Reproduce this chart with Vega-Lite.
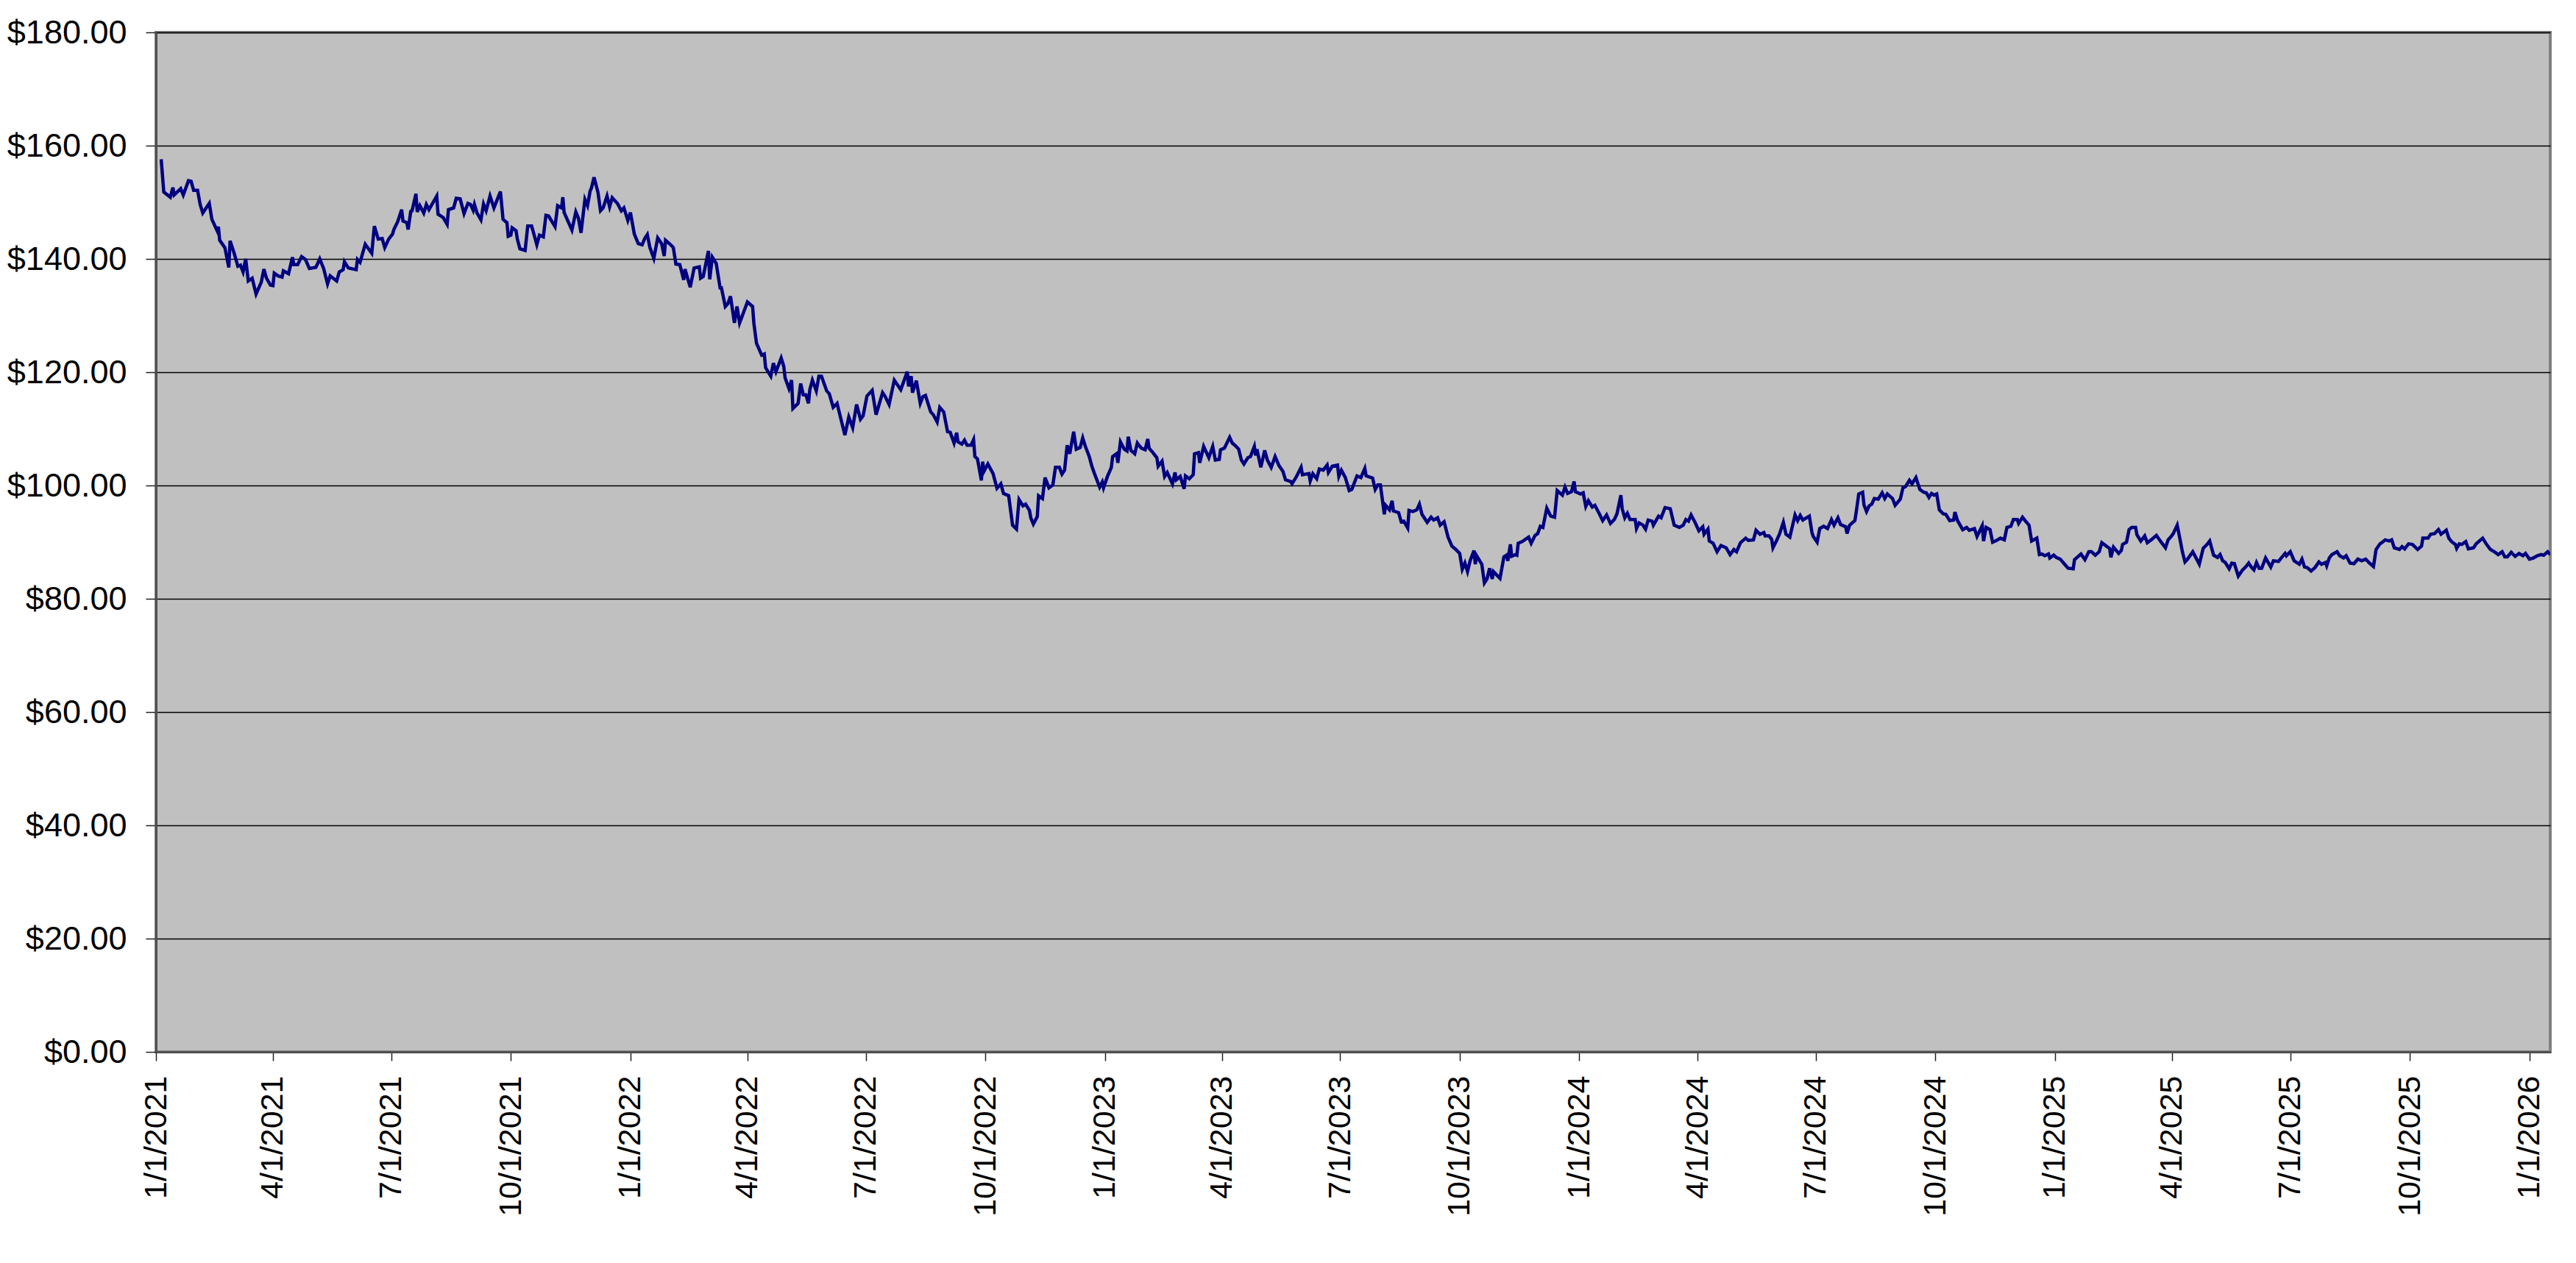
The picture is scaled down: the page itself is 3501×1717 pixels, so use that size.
{
  "$schema": "https://vega.github.io/schema/vega-lite/v6.json",
  "autosize": {"type": "none"},
  "padding": {"left": 212, "top": 44, "right": 35, "bottom": 287},
  "width": 3254,
  "height": 1386,
  "background": "#FFFFFF",
  "config": {
    "view": {"fill": "#C0C0C0", "stroke": "#808080", "strokeWidth": 4},
    "axis": {"labelFont": "Liberation Sans", "labelColor": "#000000", "labelLimit": 0}
  },
  "data": {"values": [
    {"d":"2021-01-05","p":157.6},{"d":"2021-01-07","p":151.8},{"d":"2021-01-12","p":150.9},{"d":"2021-01-14","p":152.6},{"d":"2021-01-15","p":151.3},{"d":"2021-01-20","p":152.4},{"d":"2021-01-22","p":151.3},{"d":"2021-01-26","p":153.8},{"d":"2021-01-28","p":153.7},{"d":"2021-01-30","p":152.1},
    {"d":"2021-02-02","p":152.1},{"d":"2021-02-04","p":149.6},{"d":"2021-02-06","p":148.1},{"d":"2021-02-11","p":149.8},{"d":"2021-02-13","p":147.0},{"d":"2021-02-17","p":145.0},{"d":"2021-02-18","p":145.7},{"d":"2021-02-19","p":143.3},{"d":"2021-02-23","p":142.0},{"d":"2021-02-26","p":138.5},{"d":"2021-02-27","p":143.2},
    {"d":"2021-03-02","p":141.1},{"d":"2021-03-05","p":138.7},{"d":"2021-03-07","p":138.9},{"d":"2021-03-09","p":137.7},{"d":"2021-03-11","p":140.0},{"d":"2021-03-13","p":136.1},{"d":"2021-03-16","p":136.6},{"d":"2021-03-19","p":133.8},{"d":"2021-03-23","p":135.9},{"d":"2021-03-25","p":138.2},{"d":"2021-03-27","p":136.6},{"d":"2021-03-30","p":135.4},
    {"d":"2021-04-01","p":135.3},{"d":"2021-04-02","p":137.5},{"d":"2021-04-05","p":137.0},{"d":"2021-04-08","p":136.8},{"d":"2021-04-09","p":137.9},{"d":"2021-04-13","p":137.4},{"d":"2021-04-16","p":140.3},{"d":"2021-04-17","p":139.0},{"d":"2021-04-20","p":139.0},{"d":"2021-04-23","p":140.4},{"d":"2021-04-26","p":139.9},{"d":"2021-04-29","p":138.3},
    {"d":"2021-05-04","p":138.5},{"d":"2021-05-07","p":140.0},{"d":"2021-05-10","p":138.3},{"d":"2021-05-13","p":135.6},{"d":"2021-05-15","p":137.0},{"d":"2021-05-20","p":136.1},{"d":"2021-05-22","p":137.7},{"d":"2021-05-25","p":138.1},{"d":"2021-05-26","p":139.5},{"d":"2021-05-29","p":138.4},
    {"d":"2021-06-04","p":138.1},{"d":"2021-06-05","p":139.9},{"d":"2021-06-07","p":139.4},{"d":"2021-06-11","p":142.6},{"d":"2021-06-16","p":141.0},{"d":"2021-06-18","p":145.8},{"d":"2021-06-21","p":143.5},{"d":"2021-06-24","p":143.6},{"d":"2021-06-26","p":142.0},{"d":"2021-06-29","p":143.5},
    {"d":"2021-07-02","p":144.4},{"d":"2021-07-03","p":145.2},{"d":"2021-07-06","p":146.6},{"d":"2021-07-09","p":148.7},{"d":"2021-07-10","p":146.7},{"d":"2021-07-13","p":146.4},{"d":"2021-07-14","p":145.2},{"d":"2021-07-16","p":148.4},{"d":"2021-07-17","p":148.5},{"d":"2021-07-20","p":151.5},{"d":"2021-07-21","p":148.3},{"d":"2021-07-23","p":149.4},{"d":"2021-07-26","p":148.1},{"d":"2021-07-28","p":149.6},{"d":"2021-07-30","p":148.7},
    {"d":"2021-08-05","p":151.1},{"d":"2021-08-06","p":147.9},{"d":"2021-08-10","p":147.3},{"d":"2021-08-13","p":146.1},{"d":"2021-08-14","p":148.7},{"d":"2021-08-18","p":149.0},{"d":"2021-08-20","p":150.7},{"d":"2021-08-23","p":150.6},{"d":"2021-08-26","p":148.0},{"d":"2021-08-29","p":149.8},{"d":"2021-08-31","p":149.6},
    {"d":"2021-09-02","p":148.6},{"d":"2021-09-03","p":149.6},{"d":"2021-09-05","p":148.1},{"d":"2021-09-08","p":146.9},{"d":"2021-09-10","p":149.7},{"d":"2021-09-12","p":148.5},{"d":"2021-09-15","p":151.1},{"d":"2021-09-18","p":149.0},{"d":"2021-09-23","p":151.9},{"d":"2021-09-25","p":147.0},{"d":"2021-09-28","p":146.4},{"d":"2021-09-29","p":144.0},
    {"d":"2021-10-01","p":144.2},{"d":"2021-10-02","p":145.5},{"d":"2021-10-05","p":145.0},{"d":"2021-10-06","p":143.5},{"d":"2021-10-08","p":141.8},{"d":"2021-10-12","p":141.5},{"d":"2021-10-14","p":145.8},{"d":"2021-10-17","p":145.8},{"d":"2021-10-18","p":145.0},{"d":"2021-10-21","p":142.5},{"d":"2021-10-23","p":144.2},{"d":"2021-10-26","p":143.9},{"d":"2021-10-28","p":147.7},{"d":"2021-10-30","p":147.6},
    {"d":"2021-11-04","p":145.7},{"d":"2021-11-06","p":149.4},{"d":"2021-11-09","p":149.0},{"d":"2021-11-10","p":150.9},{"d":"2021-11-11","p":148.2},{"d":"2021-11-17","p":145.1},{"d":"2021-11-20","p":148.3},{"d":"2021-11-22","p":147.2},{"d":"2021-11-24","p":144.6},{"d":"2021-11-27","p":150.5},{"d":"2021-11-29","p":149.4},
    {"d":"2021-12-01","p":152.0},{"d":"2021-12-02","p":152.5},{"d":"2021-12-04","p":154.4},{"d":"2021-12-07","p":151.8},{"d":"2021-12-09","p":148.5},{"d":"2021-12-11","p":149.0},{"d":"2021-12-14","p":151.1},{"d":"2021-12-16","p":149.2},{"d":"2021-12-18","p":150.8},{"d":"2021-12-20","p":150.3},{"d":"2021-12-22","p":149.8},{"d":"2021-12-25","p":148.5},{"d":"2021-12-27","p":149.0},{"d":"2021-12-30","p":146.8},
    {"d":"2022-01-01","p":148.2},{"d":"2022-01-04","p":144.4},{"d":"2022-01-07","p":142.7},{"d":"2022-01-10","p":142.5},{"d":"2022-01-12","p":143.6},{"d":"2022-01-14","p":144.3},{"d":"2022-01-16","p":142.0},{"d":"2022-01-19","p":140.1},{"d":"2022-01-22","p":143.7},{"d":"2022-01-25","p":142.7},{"d":"2022-01-27","p":140.5},{"d":"2022-01-28","p":143.3},
    {"d":"2022-02-01","p":142.5},{"d":"2022-02-03","p":142.0},{"d":"2022-02-05","p":139.1},{"d":"2022-02-08","p":139.0},{"d":"2022-02-11","p":136.3},{"d":"2022-02-12","p":138.2},{"d":"2022-02-16","p":135.0},{"d":"2022-02-19","p":138.4},{"d":"2022-02-23","p":138.6},{"d":"2022-02-24","p":136.6},{"d":"2022-02-26","p":136.9},
    {"d":"2022-03-02","p":141.4},{"d":"2022-03-03","p":136.4},{"d":"2022-03-05","p":140.3},{"d":"2022-03-08","p":139.2},{"d":"2022-03-11","p":134.9},{"d":"2022-03-12","p":134.9},{"d":"2022-03-15","p":131.6},{"d":"2022-03-17","p":132.1},{"d":"2022-03-19","p":133.4},{"d":"2022-03-22","p":128.7},{"d":"2022-03-24","p":131.6},{"d":"2022-03-26","p":128.7},{"d":"2022-03-28","p":129.9},
    {"d":"2022-04-01","p":132.4},{"d":"2022-04-05","p":131.6},{"d":"2022-04-06","p":128.6},{"d":"2022-04-08","p":125.1},{"d":"2022-04-12","p":123.0},{"d":"2022-04-14","p":123.2},{"d":"2022-04-15","p":120.8},{"d":"2022-04-19","p":119.3},{"d":"2022-04-21","p":121.6},{"d":"2022-04-23","p":120.1},{"d":"2022-04-27","p":122.5},{"d":"2022-04-29","p":121.0},{"d":"2022-04-30","p":119.0},
    {"d":"2022-05-03","p":117.1},{"d":"2022-05-05","p":118.6},{"d":"2022-05-06","p":113.6},{"d":"2022-05-10","p":114.5},{"d":"2022-05-12","p":118.0},{"d":"2022-05-14","p":116.0},{"d":"2022-05-16","p":116.0},{"d":"2022-05-18","p":114.5},{"d":"2022-05-19","p":116.9},{"d":"2022-05-21","p":118.6},{"d":"2022-05-24","p":116.7},{"d":"2022-05-26","p":119.3},{"d":"2022-05-28","p":119.3},
    {"d":"2022-06-01","p":116.7},{"d":"2022-06-03","p":116.2},{"d":"2022-06-06","p":113.8},{"d":"2022-06-09","p":114.5},{"d":"2022-06-15","p":108.9},{"d":"2022-06-18","p":112.1},{"d":"2022-06-21","p":110.2},{"d":"2022-06-24","p":114.3},{"d":"2022-06-27","p":111.7},{"d":"2022-06-29","p":112.3},
    {"d":"2022-07-02","p":115.8},{"d":"2022-07-06","p":116.8},{"d":"2022-07-09","p":112.5},{"d":"2022-07-14","p":116.4},{"d":"2022-07-16","p":115.7},{"d":"2022-07-19","p":114.3},{"d":"2022-07-23","p":118.6},{"d":"2022-07-28","p":116.9},
    {"d":"2022-08-02","p":120.1},{"d":"2022-08-03","p":117.5},{"d":"2022-08-05","p":119.3},{"d":"2022-08-06","p":116.4},{"d":"2022-08-09","p":118.5},{"d":"2022-08-12","p":114.5},{"d":"2022-08-14","p":115.7},{"d":"2022-08-16","p":115.9},{"d":"2022-08-20","p":113.0},{"d":"2022-08-22","p":112.5},{"d":"2022-08-25","p":111.2},{"d":"2022-08-27","p":113.8},{"d":"2022-08-30","p":113.0},
    {"d":"2022-09-02","p":109.5},{"d":"2022-09-04","p":109.4},{"d":"2022-09-07","p":107.5},{"d":"2022-09-09","p":109.3},{"d":"2022-09-10","p":107.7},{"d":"2022-09-13","p":107.3},{"d":"2022-09-15","p":108.0},{"d":"2022-09-17","p":107.1},{"d":"2022-09-20","p":107.1},{"d":"2022-09-22","p":108.1},{"d":"2022-09-23","p":105.1},{"d":"2022-09-25","p":104.7},{"d":"2022-09-28","p":100.9},{"d":"2022-09-29","p":104.2},{"d":"2022-09-30","p":102.5},
    {"d":"2022-10-03","p":103.8},{"d":"2022-10-07","p":102.1},{"d":"2022-10-10","p":99.5},{"d":"2022-10-13","p":100.3},{"d":"2022-10-15","p":98.6},{"d":"2022-10-19","p":98.2},{"d":"2022-10-22","p":93.0},{"d":"2022-10-25","p":92.3},{"d":"2022-10-27","p":97.5},{"d":"2022-10-30","p":96.4},
    {"d":"2022-11-01","p":96.7},{"d":"2022-11-04","p":95.6},{"d":"2022-11-05","p":94.3},{"d":"2022-11-07","p":93.2},{"d":"2022-11-10","p":94.5},{"d":"2022-11-11","p":98.2},{"d":"2022-11-14","p":97.7},{"d":"2022-11-16","p":101.4},{"d":"2022-11-19","p":99.6},{"d":"2022-11-22","p":100.1},{"d":"2022-11-24","p":103.2},{"d":"2022-11-27","p":103.2},{"d":"2022-11-29","p":102.0},
    {"d":"2022-12-01","p":102.7},{"d":"2022-12-03","p":107.1},{"d":"2022-12-05","p":105.6},{"d":"2022-12-08","p":109.5},{"d":"2022-12-10","p":106.4},{"d":"2022-12-13","p":106.7},{"d":"2022-12-15","p":108.4},{"d":"2022-12-17","p":106.9},{"d":"2022-12-20","p":105.1},{"d":"2022-12-22","p":103.4},{"d":"2022-12-24","p":102.1},{"d":"2022-12-28","p":99.7},{"d":"2022-12-30","p":100.6},{"d":"2022-12-31","p":99.6},
    {"d":"2023-01-03","p":101.6},{"d":"2023-01-06","p":103.2},{"d":"2023-01-07","p":105.1},{"d":"2023-01-10","p":105.6},{"d":"2023-01-11","p":104.0},{"d":"2023-01-13","p":107.7},{"d":"2023-01-16","p":106.4},{"d":"2023-01-18","p":106.1},{"d":"2023-01-19","p":108.6},{"d":"2023-01-21","p":106.2},{"d":"2023-01-24","p":105.6},{"d":"2023-01-26","p":107.5},{"d":"2023-01-29","p":106.6},
    {"d":"2023-02-01","p":106.3},{"d":"2023-02-03","p":108.2},{"d":"2023-02-04","p":106.6},{"d":"2023-02-07","p":105.8},{"d":"2023-02-10","p":104.9},{"d":"2023-02-11","p":103.4},{"d":"2023-02-14","p":104.3},{"d":"2023-02-16","p":101.6},{"d":"2023-02-18","p":102.3},{"d":"2023-02-22","p":100.3},{"d":"2023-02-24","p":102.3},{"d":"2023-02-25","p":101.0},{"d":"2023-02-28","p":101.6},
    {"d":"2023-03-03","p":99.4},{"d":"2023-03-04","p":101.7},{"d":"2023-03-07","p":101.2},{"d":"2023-03-10","p":101.9},{"d":"2023-03-11","p":105.6},{"d":"2023-03-14","p":105.8},{"d":"2023-03-15","p":104.0},{"d":"2023-03-18","p":106.9},{"d":"2023-03-19","p":106.4},{"d":"2023-03-22","p":104.9},{"d":"2023-03-25","p":106.9},{"d":"2023-03-27","p":104.5},{"d":"2023-03-30","p":104.6},{"d":"2023-03-31","p":106.3},
    {"d":"2023-04-03","p":106.6},{"d":"2023-04-07","p":108.5},{"d":"2023-04-09","p":107.5},{"d":"2023-04-12","p":106.9},{"d":"2023-04-14","p":106.4},{"d":"2023-04-16","p":104.5},{"d":"2023-04-18","p":103.8},{"d":"2023-04-21","p":104.9},{"d":"2023-04-23","p":105.1},{"d":"2023-04-26","p":106.9},{"d":"2023-04-27","p":105.3},{"d":"2023-04-28","p":106.4},
    {"d":"2023-05-01","p":103.2},{"d":"2023-05-04","p":106.2},{"d":"2023-05-06","p":104.5},{"d":"2023-05-09","p":103.2},{"d":"2023-05-12","p":105.1},{"d":"2023-05-15","p":103.5},{"d":"2023-05-18","p":102.5},{"d":"2023-05-20","p":101.0},{"d":"2023-05-24","p":100.7},{"d":"2023-05-25","p":100.3},{"d":"2023-05-28","p":101.4},
    {"d":"2023-06-01","p":103.2},{"d":"2023-06-02","p":101.9},{"d":"2023-06-07","p":102.1},{"d":"2023-06-08","p":100.8},{"d":"2023-06-10","p":102.1},{"d":"2023-06-13","p":101.2},{"d":"2023-06-15","p":102.9},{"d":"2023-06-18","p":102.7},{"d":"2023-06-21","p":103.6},{"d":"2023-06-22","p":102.3},{"d":"2023-06-25","p":103.4},{"d":"2023-06-29","p":103.6},{"d":"2023-06-30","p":101.6},
    {"d":"2023-07-02","p":102.7},{"d":"2023-07-05","p":101.4},{"d":"2023-07-08","p":99.1},{"d":"2023-07-10","p":99.3},{"d":"2023-07-14","p":101.7},{"d":"2023-07-17","p":101.4},{"d":"2023-07-20","p":103.0},{"d":"2023-07-21","p":101.7},{"d":"2023-07-26","p":101.3},{"d":"2023-07-28","p":99.3},{"d":"2023-07-30","p":100.1},
    {"d":"2023-08-01","p":100.1},{"d":"2023-08-04","p":94.9},{"d":"2023-08-05","p":96.5},{"d":"2023-08-08","p":95.7},{"d":"2023-08-10","p":97.3},{"d":"2023-08-11","p":95.5},{"d":"2023-08-15","p":95.2},{"d":"2023-08-17","p":93.6},{"d":"2023-08-19","p":93.7},{"d":"2023-08-22","p":92.5},{"d":"2023-08-23","p":95.6},{"d":"2023-08-26","p":95.4},{"d":"2023-08-29","p":95.7},{"d":"2023-08-31","p":96.7},
    {"d":"2023-09-02","p":94.9},{"d":"2023-09-06","p":93.5},{"d":"2023-09-09","p":94.4},{"d":"2023-09-11","p":93.9},{"d":"2023-09-14","p":94.3},{"d":"2023-09-16","p":93.0},{"d":"2023-09-19","p":93.6},{"d":"2023-09-22","p":90.9},{"d":"2023-09-25","p":89.3},{"d":"2023-09-28","p":88.7},
    {"d":"2023-10-01","p":88.0},{"d":"2023-10-03","p":85.2},{"d":"2023-10-05","p":86.3},{"d":"2023-10-07","p":84.8},{"d":"2023-10-09","p":86.7},{"d":"2023-10-12","p":88.5},{"d":"2023-10-13","p":86.1},{"d":"2023-10-14","p":87.6},{"d":"2023-10-18","p":86.1},{"d":"2023-10-20","p":82.8},{"d":"2023-10-22","p":83.5},{"d":"2023-10-24","p":85.4},{"d":"2023-10-26","p":83.5},{"d":"2023-10-27","p":84.8},{"d":"2023-10-29","p":84.3},
    {"d":"2023-11-01","p":83.6},{"d":"2023-11-04","p":87.4},{"d":"2023-11-06","p":87.7},{"d":"2023-11-07","p":86.7},{"d":"2023-11-09","p":89.6},{"d":"2023-11-10","p":87.5},{"d":"2023-11-13","p":87.8},{"d":"2023-11-14","p":87.7},{"d":"2023-11-15","p":89.8},{"d":"2023-11-18","p":90.1},{"d":"2023-11-23","p":90.9},{"d":"2023-11-25","p":89.8},{"d":"2023-11-28","p":91.2},{"d":"2023-11-30","p":91.5},
    {"d":"2023-12-02","p":92.8},{"d":"2023-12-04","p":92.6},{"d":"2023-12-07","p":96.0},{"d":"2023-12-10","p":94.6},{"d":"2023-12-13","p":94.4},{"d":"2023-12-15","p":99.1},{"d":"2023-12-19","p":98.3},{"d":"2023-12-21","p":99.7},{"d":"2023-12-23","p":98.6},{"d":"2023-12-26","p":98.9},{"d":"2023-12-28","p":100.7},{"d":"2023-12-29","p":98.9},
    {"d":"2024-01-02","p":98.5},{"d":"2024-01-04","p":98.7},{"d":"2024-01-06","p":96.3},{"d":"2024-01-08","p":97.3},{"d":"2024-01-11","p":96.2},{"d":"2024-01-13","p":96.5},{"d":"2024-01-16","p":95.2},{"d":"2024-01-19","p":93.8},{"d":"2024-01-22","p":94.8},{"d":"2024-01-25","p":93.3},{"d":"2024-01-28","p":94.0},{"d":"2024-01-30","p":95.0},
    {"d":"2024-02-02","p":98.3},{"d":"2024-02-03","p":95.9},{"d":"2024-02-05","p":94.3},{"d":"2024-02-07","p":95.1},{"d":"2024-02-09","p":94.0},{"d":"2024-02-13","p":94.0},{"d":"2024-02-14","p":92.4},{"d":"2024-02-16","p":93.4},{"d":"2024-02-19","p":93.0},{"d":"2024-02-21","p":92.3},{"d":"2024-02-23","p":93.9},{"d":"2024-02-26","p":93.7},{"d":"2024-02-27","p":93.0},
    {"d":"2024-03-02","p":94.6},{"d":"2024-03-04","p":94.3},{"d":"2024-03-07","p":96.1},{"d":"2024-03-11","p":95.9},{"d":"2024-03-14","p":93.0},{"d":"2024-03-18","p":92.6},{"d":"2024-03-21","p":93.0},{"d":"2024-03-23","p":94.0},{"d":"2024-03-25","p":93.7},{"d":"2024-03-27","p":94.8},{"d":"2024-03-30","p":93.5},
    {"d":"2024-04-02","p":92.0},{"d":"2024-04-05","p":92.7},{"d":"2024-04-06","p":91.4},{"d":"2024-04-09","p":92.3},{"d":"2024-04-10","p":90.2},{"d":"2024-04-13","p":89.8},{"d":"2024-04-16","p":88.3},{"d":"2024-04-19","p":89.4},{"d":"2024-04-23","p":89.0},{"d":"2024-04-26","p":87.8},{"d":"2024-04-29","p":88.7},
    {"d":"2024-05-01","p":88.3},{"d":"2024-05-04","p":89.9},{"d":"2024-05-08","p":90.7},{"d":"2024-05-10","p":90.3},{"d":"2024-05-14","p":90.4},{"d":"2024-05-16","p":92.1},{"d":"2024-05-19","p":91.4},{"d":"2024-05-22","p":91.7},{"d":"2024-05-23","p":91.1},{"d":"2024-05-26","p":91.1},{"d":"2024-05-28","p":90.5},{"d":"2024-05-29","p":89.0},
    {"d":"2024-06-01","p":90.4},{"d":"2024-06-03","p":91.4},{"d":"2024-06-06","p":93.5},{"d":"2024-06-08","p":91.4},{"d":"2024-06-11","p":90.9},{"d":"2024-06-15","p":94.8},{"d":"2024-06-17","p":93.8},{"d":"2024-06-19","p":94.7},{"d":"2024-06-21","p":93.9},{"d":"2024-06-26","p":94.6},{"d":"2024-06-28","p":91.7},{"d":"2024-06-29","p":91.0},
    {"d":"2024-07-02","p":90.0},{"d":"2024-07-04","p":92.4},{"d":"2024-07-07","p":92.8},{"d":"2024-07-10","p":92.4},{"d":"2024-07-13","p":94.0},{"d":"2024-07-15","p":93.0},{"d":"2024-07-18","p":94.3},{"d":"2024-07-20","p":93.1},{"d":"2024-07-24","p":92.7},{"d":"2024-07-25","p":91.5},{"d":"2024-07-27","p":93.0},{"d":"2024-07-31","p":93.8},
    {"d":"2024-08-01","p":95.2},{"d":"2024-08-03","p":98.5},{"d":"2024-08-06","p":98.8},{"d":"2024-08-07","p":96.6},{"d":"2024-08-09","p":95.4},{"d":"2024-08-11","p":96.4},{"d":"2024-08-13","p":96.7},{"d":"2024-08-15","p":97.7},{"d":"2024-08-18","p":97.6},{"d":"2024-08-21","p":98.7},{"d":"2024-08-23","p":97.7},{"d":"2024-08-25","p":98.5},{"d":"2024-08-29","p":97.7},{"d":"2024-08-31","p":96.5},
    {"d":"2024-09-04","p":97.6},{"d":"2024-09-06","p":99.6},{"d":"2024-09-08","p":99.8},{"d":"2024-09-11","p":100.9},{"d":"2024-09-13","p":100.3},{"d":"2024-09-16","p":101.4},{"d":"2024-09-19","p":99.3},{"d":"2024-09-22","p":98.8},{"d":"2024-09-24","p":98.7},{"d":"2024-09-26","p":97.9},{"d":"2024-09-28","p":98.6},{"d":"2024-09-30","p":98.3},
    {"d":"2024-10-02","p":98.5},{"d":"2024-10-04","p":95.7},{"d":"2024-10-07","p":95.0},{"d":"2024-10-09","p":94.9},{"d":"2024-10-12","p":93.8},{"d":"2024-10-15","p":93.9},{"d":"2024-10-16","p":95.3},{"d":"2024-10-18","p":93.8},{"d":"2024-10-22","p":92.2},{"d":"2024-10-25","p":92.6},{"d":"2024-10-27","p":92.1},{"d":"2024-10-31","p":92.4},
    {"d":"2024-11-02","p":91.0},{"d":"2024-11-06","p":92.9},{"d":"2024-11-07","p":90.2},{"d":"2024-11-09","p":92.6},{"d":"2024-11-12","p":92.2},{"d":"2024-11-14","p":90.0},{"d":"2024-11-17","p":90.3},{"d":"2024-11-20","p":90.7},{"d":"2024-11-23","p":90.4},{"d":"2024-11-25","p":92.6},{"d":"2024-11-28","p":92.8},{"d":"2024-11-30","p":94.0},
    {"d":"2024-12-03","p":94.0},{"d":"2024-12-04","p":93.3},{"d":"2024-12-07","p":94.4},{"d":"2024-12-09","p":93.8},{"d":"2024-12-12","p":93.0},{"d":"2024-12-14","p":90.2},{"d":"2024-12-18","p":90.7},{"d":"2024-12-20","p":87.8},{"d":"2024-12-22","p":87.9},{"d":"2024-12-24","p":87.6},{"d":"2024-12-27","p":87.9},{"d":"2024-12-28","p":87.2},{"d":"2024-12-31","p":87.7},
    {"d":"2025-01-02","p":87.3},{"d":"2025-01-05","p":87.0},{"d":"2025-01-08","p":86.2},{"d":"2025-01-11","p":85.4},{"d":"2025-01-15","p":85.3},{"d":"2025-01-16","p":86.9},{"d":"2025-01-21","p":87.9},{"d":"2025-01-24","p":86.9},{"d":"2025-01-27","p":88.3},{"d":"2025-01-29","p":88.3},
    {"d":"2025-02-01","p":87.7},{"d":"2025-02-04","p":88.3},{"d":"2025-02-06","p":89.9},{"d":"2025-02-10","p":89.2},{"d":"2025-02-12","p":88.9},{"d":"2025-02-13","p":87.3},{"d":"2025-02-15","p":89.1},{"d":"2025-02-19","p":88.0},{"d":"2025-02-21","p":88.5},{"d":"2025-02-22","p":89.6},{"d":"2025-02-25","p":90.0},{"d":"2025-02-27","p":92.2},
    {"d":"2025-03-01","p":92.6},{"d":"2025-03-04","p":92.6},{"d":"2025-03-05","p":91.3},{"d":"2025-03-08","p":90.2},{"d":"2025-03-11","p":91.1},{"d":"2025-03-13","p":89.9},{"d":"2025-03-16","p":90.4},{"d":"2025-03-20","p":91.2},{"d":"2025-03-23","p":90.2},{"d":"2025-03-27","p":89.0},{"d":"2025-03-29","p":90.4},{"d":"2025-03-31","p":90.9},
    {"d":"2025-04-02","p":91.5},{"d":"2025-04-05","p":93.0},{"d":"2025-04-07","p":90.7},{"d":"2025-04-09","p":88.3},{"d":"2025-04-11","p":86.5},{"d":"2025-04-13","p":87.0},{"d":"2025-04-17","p":88.3},{"d":"2025-04-22","p":86.1},{"d":"2025-04-25","p":88.9},{"d":"2025-04-28","p":89.6},{"d":"2025-04-30","p":90.2},
    {"d":"2025-05-03","p":87.7},{"d":"2025-05-06","p":87.3},{"d":"2025-05-08","p":87.8},{"d":"2025-05-10","p":86.7},{"d":"2025-05-12","p":86.4},{"d":"2025-05-15","p":85.3},{"d":"2025-05-17","p":86.3},{"d":"2025-05-19","p":86.2},{"d":"2025-05-22","p":84.0},{"d":"2025-05-25","p":85.0},{"d":"2025-05-28","p":85.7},{"d":"2025-05-30","p":86.3},
    {"d":"2025-06-01","p":85.6},{"d":"2025-06-03","p":85.1},{"d":"2025-06-05","p":86.4},{"d":"2025-06-07","p":85.4},{"d":"2025-06-09","p":85.4},{"d":"2025-06-12","p":87.2},{"d":"2025-06-16","p":85.6},{"d":"2025-06-18","p":86.7},{"d":"2025-06-22","p":86.6},{"d":"2025-06-24","p":87.2},{"d":"2025-06-27","p":88.0},{"d":"2025-06-28","p":87.6},
    {"d":"2025-07-01","p":88.3},{"d":"2025-07-04","p":86.7},{"d":"2025-07-08","p":86.1},{"d":"2025-07-10","p":87.0},{"d":"2025-07-12","p":85.6},{"d":"2025-07-14","p":85.5},{"d":"2025-07-17","p":84.9},{"d":"2025-07-20","p":85.5},{"d":"2025-07-23","p":86.5},{"d":"2025-07-25","p":86.1},{"d":"2025-07-28","p":86.4},{"d":"2025-07-29","p":85.8},{"d":"2025-07-31","p":87.2},
    {"d":"2025-08-02","p":87.8},{"d":"2025-08-06","p":88.3},{"d":"2025-08-08","p":87.6},{"d":"2025-08-11","p":87.2},{"d":"2025-08-13","p":87.6},{"d":"2025-08-16","p":86.3},{"d":"2025-08-19","p":86.2},{"d":"2025-08-22","p":87.0},{"d":"2025-08-25","p":86.7},{"d":"2025-08-28","p":87.0},{"d":"2025-08-31","p":86.3},
    {"d":"2025-09-03","p":85.7},{"d":"2025-09-05","p":88.7},{"d":"2025-09-08","p":89.7},{"d":"2025-09-10","p":90.0},{"d":"2025-09-12","p":90.4},{"d":"2025-09-15","p":90.2},{"d":"2025-09-17","p":90.4},{"d":"2025-09-19","p":89.0},{"d":"2025-09-23","p":88.7},{"d":"2025-09-25","p":89.2},{"d":"2025-09-27","p":88.8},{"d":"2025-09-30","p":89.7},
    {"d":"2025-10-03","p":89.6},{"d":"2025-10-07","p":88.7},{"d":"2025-10-10","p":89.3},{"d":"2025-10-11","p":90.7},{"d":"2025-10-15","p":90.7},{"d":"2025-10-17","p":91.4},{"d":"2025-10-20","p":91.5},{"d":"2025-10-23","p":92.2},{"d":"2025-10-25","p":91.4},{"d":"2025-10-29","p":92.1},{"d":"2025-10-31","p":90.7},
    {"d":"2025-11-02","p":90.1},{"d":"2025-11-05","p":89.6},{"d":"2025-11-06","p":88.9},{"d":"2025-11-08","p":89.7},{"d":"2025-11-10","p":89.6},{"d":"2025-11-13","p":90.1},{"d":"2025-11-15","p":88.8},{"d":"2025-11-19","p":89.0},{"d":"2025-11-21","p":89.7},{"d":"2025-11-26","p":90.7},{"d":"2025-11-29","p":89.6},
    {"d":"2025-12-02","p":88.7},{"d":"2025-12-05","p":88.3},{"d":"2025-12-08","p":87.8},{"d":"2025-12-11","p":88.3},{"d":"2025-12-13","p":87.4},{"d":"2025-12-15","p":87.4},{"d":"2025-12-18","p":88.2},{"d":"2025-12-21","p":87.5},{"d":"2025-12-24","p":88.0},{"d":"2025-12-27","p":87.6},{"d":"2025-12-29","p":88.0},
    {"d":"2026-01-01","p":87.0},{"d":"2026-01-04","p":87.2},{"d":"2026-01-07","p":87.6},{"d":"2026-01-10","p":87.8},{"d":"2026-01-12","p":87.7},{"d":"2026-01-15","p":88.3},{"d":"2026-01-17","p":87.8}
  ]},
  "mark": {"type": "line", "color": "#000080", "strokeWidth": 4.5, "clip": true},
  "encoding": {
    "x": {
      "field": "d",
      "type": "temporal",
      "scale": {
        "type": "utc",
        "domain": [
          {"year": 2021, "month": 1, "date": 1, "utc": true},
          {"year": 2026, "month": 1, "date": 17, "utc": true}
        ],
        "nice": false
      },
      "axis": {
        "title": null,
        "values": [
          {"year": 2021, "month": 1, "date": 1, "utc": true},
          {"year": 2021, "month": 4, "date": 1, "utc": true},
          {"year": 2021, "month": 7, "date": 1, "utc": true},
          {"year": 2021, "month": 10, "date": 1, "utc": true},
          {"year": 2022, "month": 1, "date": 1, "utc": true},
          {"year": 2022, "month": 4, "date": 1, "utc": true},
          {"year": 2022, "month": 7, "date": 1, "utc": true},
          {"year": 2022, "month": 10, "date": 1, "utc": true},
          {"year": 2023, "month": 1, "date": 1, "utc": true},
          {"year": 2023, "month": 4, "date": 1, "utc": true},
          {"year": 2023, "month": 7, "date": 1, "utc": true},
          {"year": 2023, "month": 10, "date": 1, "utc": true},
          {"year": 2024, "month": 1, "date": 1, "utc": true},
          {"year": 2024, "month": 4, "date": 1, "utc": true},
          {"year": 2024, "month": 7, "date": 1, "utc": true},
          {"year": 2024, "month": 10, "date": 1, "utc": true},
          {"year": 2025, "month": 1, "date": 1, "utc": true},
          {"year": 2025, "month": 4, "date": 1, "utc": true},
          {"year": 2025, "month": 7, "date": 1, "utc": true},
          {"year": 2025, "month": 10, "date": 1, "utc": true},
          {"year": 2026, "month": 1, "date": 1, "utc": true}
        ],
        "labelExpr": "utcFormat(datum.value, '%-m/%-d/%Y')",
        "labelAngle": 270,
        "labelAlign": "right",
        "labelBaseline": "middle",
        "labelFontSize": 43,
        "labelPadding": 20,
        "labelLimit": 0,
        "labelFlush": false,
        "labelOverlap": false,
        "labelBound": false,
        "tickSize": 12,
        "tickColor": "#202020",
        "tickWidth": 1.5,
        "domainColor": "#505050",
        "domainWidth": 3,
        "grid": false
      }
    },
    "y": {
      "field": "p",
      "type": "quantitative",
      "scale": {"domain": [0, 180], "nice": false, "zero": true},
      "axis": {
        "title": null,
        "values": [0, 20, 40, 60, 80, 100, 120, 140, 160, 180],
        "format": "$.2f",
        "labelFontSize": 45,
        "labelPadding": 26,
        "labelFlush": false,
        "labelOverlap": false,
        "tickSize": 14,
        "tickColor": "#202020",
        "tickWidth": 1.5,
        "domainColor": "#505050",
        "domainWidth": 3,
        "grid": true,
        "gridColor": "#000000",
        "gridWidth": 1.5
      }
    }
  }
}
